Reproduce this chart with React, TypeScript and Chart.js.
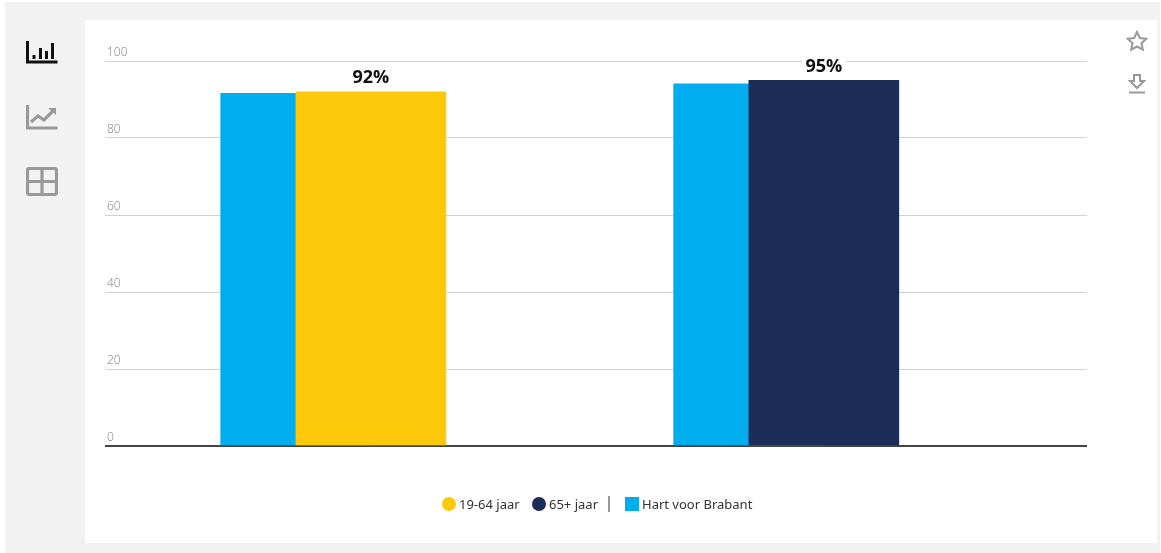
import React, { useEffect, useRef } from "react";
import { Chart, registerables } from "chart.js";

Chart.register(...registerables);

const ageLabels = ["19-64 jaar", "65+ jaar"];
const referenceLabel = "Hart voor Brabant";
const youngValue = [92];
const seniorValue = [95];
const referenceValues = [91.6, 94.1];
const groupPositions = [0, 1];
const referencePositions = [-0.166, 0.834];
const yTicks = [0, 20, 40, 60, 80, 100];
const YELLOW = "#ffc90b";
const NAVY = "#1b2d56";
const BLUE = "#00adef";
const FONT = '"Noto Sans", sans-serif';

const labelPlugin = {
  id: "valueLabels",
  afterDatasetsDraw(chart: any) {
    const { ctx } = chart;
    [0, 1].forEach((di) => {
      chart.getDatasetMeta(di).data.forEach((el: any) => {
        const v = chart.data.datasets[di].data[0].y;
        const text = `${v}%`;
        ctx.save();
        ctx.font = `bold 18px "Open Sans", sans-serif`;
        ctx.textAlign = "center";
        ctx.textBaseline = "middle";
        const w = ctx.measureText(text).width + 8;
        const cy = el.y - 13.5;
        ctx.fillStyle = "#fff";
        ctx.fillRect(el.x - w / 2, cy - 8, w, 14);
        ctx.fillStyle = "#111";
        ctx.fillText(text, el.x, cy);
        ctx.restore();
      });
    });
  },
};

const Icon = ({ x, y, w, h, vb, children }: any) => (
  <svg style={{ position: "absolute", left: x, top: y }} width={w} height={h} viewBox={vb}>
    {children}
  </svg>
);

export default function App() {
  const ref = useRef<HTMLCanvasElement>(null);
  useEffect(() => {
    const chart = new Chart(ref.current!, {
      type: "bar",
      data: {
        datasets: [
          {
            label: ageLabels[0],
            data: youngValue.map((y) => ({ x: groupPositions[0], y })),
            backgroundColor: YELLOW,
            barThickness: 150,
          },
          {
            label: ageLabels[1],
            data: seniorValue.map((y) => ({ x: groupPositions[1], y })),
            backgroundColor: NAVY,
            barThickness: 150,
          },
          {
            label: referenceLabel,
            data: referenceValues.map((y, i) => ({ x: referencePositions[i], y })),
            backgroundColor: BLUE,
            barThickness: 150,
          },
        ],
      } as any,
      options: {
        animation: false,
        responsive: false,
        maintainAspectRatio: false,
        layout: { padding: { left: 20, right: 70, top: 41, bottom: 97 } },
        plugins: { legend: { display: false }, tooltip: { enabled: false } },
        scales: {
          x: {
            type: "linear",
            min: -0.587,
            max: 1.581,
            offset: false,
            grid: { display: false, drawTicks: false },
            border: { display: false },
            ticks: { display: false },
          } as any,
          y: {
            min: 0,
            max: 100,
            afterBuildTicks: (s: any) => {
              s.ticks = yTicks.map((value) => ({ value }));
            },
            afterFit: (s: any) => {
              s.width = 0;
            },
            grid: {
              color: (c: any) => (c.tick?.value === 0 ? "#444" : "#d2d2d2"),
              lineWidth: (c: any) => (c.tick?.value === 0 ? 2 : 1),
              drawTicks: false,
            },
            border: { display: false },
            ticks: {
              mirror: true,
              labelOffset: -8,
              padding: 2,
              color: "#808080",
              font: { family: '"Open Sans", sans-serif', size: 12, weight: "300" },
            },
          },
        },
        datasets: { bar: { grouped: false } },
      } as any,
      plugins: [labelPlugin],
    });
    return () => chart.destroy();
  }, []);

  const legendText: React.CSSProperties = {
    position: "absolute",
    top: 495,
    fontFamily: FONT,
    fontSize: 13,
    lineHeight: "18px",
    color: "#333",
    whiteSpace: "nowrap",
  };
  const grey = "#999";
  return (
    <div style={{ position: "absolute", left: 0, top: 0, width: 1161, height: 553, background: "#fff", overflow: "hidden" }}>
      <div style={{ position: "absolute", left: 5, top: 2, width: 1155, height: 551, background: "#f2f2f2" }} />
      <div style={{ position: "absolute", left: 85, top: 20, width: 1072, height: 523, background: "#fff" }} />
      <canvas ref={ref} width={1072} height={523} style={{ position: "absolute", left: 85, top: 20, width: 1072, height: 523 }} />

      <Icon x={26} y={40} w={32} h={24} vb="0 0 32 24">
        <path d="M1.5 1v21h30" fill="none" stroke="#111" strokeWidth="3" />
        <path d="M8 15v4M14.5 8v11M20.5 11v8M26.5 3v16" stroke="#111" strokeWidth="3" fill="none" />
      </Icon>
      <Icon x={26} y={104} w={32} h={26} vb="0 0 32 26">
        <path d="M1.5 1v23h30" fill="none" stroke={grey} strokeWidth="3.200" />
        <path d="M5 18l7-6 6 4 9-9" fill="none" stroke={grey} strokeWidth="3.200" />
        <path d="M22 4h8v7z" fill={grey} />
      </Icon>
      <Icon x={26} y={167} w={32} h={29} vb="0 0 32 29">
        <rect x="1.5" y="1.5" width="29" height="26" rx="2" fill="none" stroke={grey} strokeWidth="3.200" />
        <path d="M16 2v25M2 14.5h28" stroke={grey} strokeWidth="3.200" fill="none" />
      </Icon>
      <Icon x={1126} y={30} w={22} h={22} vb="0 0 22 22">
        <path d="M11 2l2.8 6 6.5.8-4.8 4.4 1.3 6.5L11 16.5l-5.8 3.2 1.3-6.5L1.700 8.800l6.500-.8z" fill="none" stroke={grey} strokeWidth="2" />
      </Icon>
      <Icon x={1128} y={73} w={18} h={22} vb="0 0 18 22">
        <path d="M6 2h6v6h4l-7 7-7-7h4z" fill="none" stroke={grey} strokeWidth="2" />
        <path d="M1 19.500h16" stroke={grey} strokeWidth="2" />
      </Icon>

      <div style={{ position: "absolute", left: 442, top: 497, width: 14, height: 14, borderRadius: 7, background: YELLOW }} />
      <div style={{ ...legendText, left: 459 }}>{ageLabels[0]}</div>
      <div style={{ position: "absolute", left: 532, top: 497, width: 14, height: 14, borderRadius: 7, background: NAVY }} />
      <div style={{ ...legendText, left: 549 }}>{ageLabels[1]}</div>
      <div style={{ position: "absolute", left: 608, top: 496, width: 2, height: 16, background: "#999" }} />
      <div style={{ position: "absolute", left: 625, top: 497, width: 14, height: 14, background: BLUE }} />
      <div style={{ ...legendText, left: 642 }}>{referenceLabel}</div>
    </div>
  );
}
